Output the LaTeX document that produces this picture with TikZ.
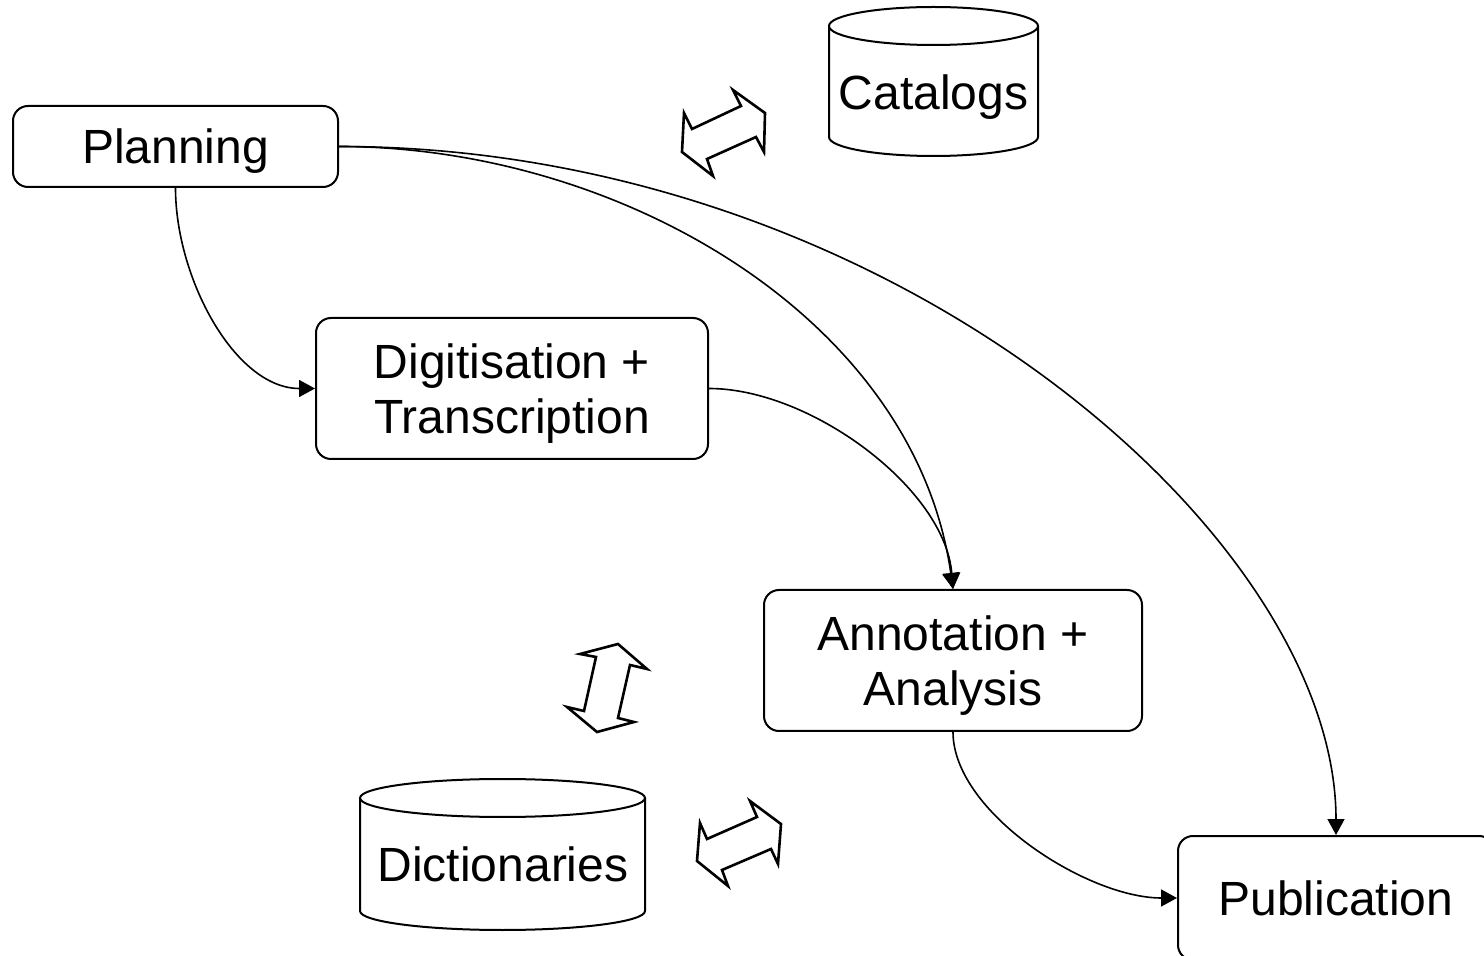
\documentclass[tikz,border=0pt]{standalone}
\usepackage{fontspec}
\setmainfont{Liberation Sans}
\usetikzlibrary{arrows.meta}
\begin{document}
\begin{tikzpicture}[x=0.5pt,y=-0.5pt,
  every node/.style={font=\fontsize{24}{27.5}\selectfont, align=center, text height=17.2pt, text depth=0pt},
  twoline/.style={text height=44.7pt, text depth=0pt},
  procbox/.style={draw, line width=1pt, rounded corners=7.5pt, inner sep=0pt},
  conn/.style={line width=0.8pt, -{Triangle[length=8pt,width=8.5pt]}},
  cyl/.style={draw, fill=white, line width=1pt},
  blockarrow/.style={draw, line width=1.3pt, line join=miter}
]
\useasboundingbox (0,0) rectangle (1484,956);
\fill[white] (0,0) rectangle (1484,956);
\clip (0,0) rectangle (1484,956);

% process boxes
\node[procbox, minimum width=162.5pt, minimum height=40.5pt] (plan) at (175.5,146.5) {Planning};
\node[procbox, twoline, minimum width=196pt, minimum height=70.5pt] (dig) at (512,388.5) {Digitisation +\\Transcription};
\node[procbox, twoline, minimum width=189pt, minimum height=70.5pt] (ann) at (953,660.5) {Annotation +\\Analysis};
\node[procbox, minimum width=158pt, minimum height=62pt] (pub) at (1336,898) {Publication};

% cylinder: Catalogs
\path[cyl, draw=none] (829,26) -- (829,137) arc[start angle=180, end angle=360, x radius=52.25pt, y radius=9.5pt] -- (1038,26) -- cycle;
\draw[line width=1pt] (829,26) -- (829,137) arc[start angle=180, end angle=360, x radius=52.25pt, y radius=9.5pt] -- (1038,26);
\draw[cyl] (933.5,26) ellipse [x radius=52.25pt, y radius=9.5pt];
\node (cat) at (933.5,92) {Catalogs};

% cylinder: Dictionaries
\path[cyl, draw=none] (360,798) -- (360,911) arc[start angle=180, end angle=360, x radius=71.25pt, y radius=9.5pt] -- (645,798) -- cycle;
\draw[line width=1pt] (360,798) -- (360,911) arc[start angle=180, end angle=360, x radius=71.25pt, y radius=9.5pt] -- (645,798);
\draw[cyl] (502.5,798) ellipse [x radius=71.25pt, y radius=9.5pt];
\node (dict) at (503,864) {Dictionaries};

% block double arrows
\draw[blockarrow] (684,113) -- (692,129) -- (741,106) -- (733,90) -- (765,113) -- (764,152) -- (756,137) -- (707,159) -- (713,176) -- (682,152) -- cycle;
\draw[blockarrow] (580,654) -- (596,657) -- (584,711) -- (567,707) -- (597,732) -- (634,722) -- (618,718) -- (630,665) -- (647,669) -- (618,644) -- cycle;
\draw[blockarrow] (700,823) -- (707,839) -- (757,817) -- (750,801) -- (781,824) -- (778,864) -- (771,849) -- (722,870) -- (728,886) -- (697,861) -- cycle;

% connectors
\draw[conn] (plan.south) .. controls +(0,90) and +(-80,0) .. (dig.west);
\draw[conn] (plan.east) .. controls +(282,0) and +(-38,-270) .. (ann.north);
\draw[conn] (plan.east) .. controls +(550,0) and +(0,-300) .. (pub.north);
\draw[conn] (dig.east) .. controls +(102,0) and +(-8,-100) .. (ann.north);
\draw[conn] (ann.south) .. controls +(0,80) and +(-90,0) .. (pub.west);
\end{tikzpicture}
\end{document}
